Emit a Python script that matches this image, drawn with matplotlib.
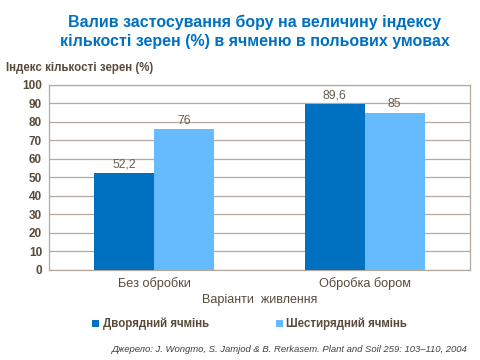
import matplotlib.pyplot as plt
import numpy as np

plt.rcParams['font.family'] = ['Liberation Sans', 'DejaVu Sans']

# categories (treatment variants)
categories = ['Без обробки', 'Обробка бором']
# series names
series = ['Дворядний ячмінь', 'Шестирядний ячмінь']
# kernel number index (%) for each series
two_row = [52.2, 89.6]
six_row = [76, 85]
value_labels = [['52,2', '89,6'], ['76', '85']]

colors = ['#0070C0', '#66BBFF']
text_col = '#5A4A3A'
grid_col = '#B3A99C'

fig = plt.figure(figsize=(4.8, 3.6), dpi=100)
ax = fig.add_axes([0.102, 0.25, 0.877, 0.514])

x = np.arange(len(categories))
w = 0.285
bars1 = ax.bar(x - w / 2, two_row, w, color=colors[0], label=series[0], zorder=3)
bars2 = ax.bar(x + w / 2, six_row, w, color=colors[1], label=series[1], zorder=3)

for bars, labs in zip([bars1, bars2], value_labels):
    for b, lab in zip(bars, labs):
        ax.text(b.get_x() + b.get_width() / 2, b.get_height() + 1.5, lab,
                ha='center', va='bottom', fontsize=8.8, color='#6B5B4B')

ax.set_xlim(-0.5, 1.5)
ax.set_ylim(0, 100)
ax.set_yticks(range(0, 101, 10))
ax.set_xticks(x)
ax.set_xticklabels(categories, fontsize=9.2, color=text_col)
for lbl in ax.get_yticklabels():
    lbl.set_fontsize(8.5)
    lbl.set_fontweight('bold')
    lbl.set_color(text_col)
ax.tick_params(axis='both', length=0, pad=5)
ax.tick_params(axis='x', pad=5)
ax.grid(axis='y', color=grid_col, linewidth=0.9, zorder=0)
for s in ax.spines.values():
    s.set_color(grid_col)
    s.set_linewidth(0.9)

ax.set_xlabel('Варіанти  живлення', fontsize=9, color=text_col, labelpad=3)

fig.text(0.53, 0.96, 'Валив застосування бору на величину індексу\nкількості зерен (%) в ячменю в польових умовах',
         ha='center', va='top', fontsize=11.5, fontweight='bold', color='#0070C0', linespacing=1.35)
fig.text(0.012, 0.81, 'Індекс кількості зерен (%)', ha='left', va='center',
         fontsize=8.3, fontweight='bold', color=text_col)

leg = fig.legend(handles=[bars1, bars2], labels=series, loc='center', bbox_to_anchor=(0.52, 0.10),
                 ncol=2, frameon=False, fontsize=8.3, handlelength=0.6, handleheight=0.6,
                 handletextpad=0.3, columnspacing=5.8)
for t in leg.get_texts():
    t.set_color(text_col)
    t.set_fontweight('bold')

fig.text(0.975, 0.028, 'Джерело: J. Wongmo, S. Jamjod & B. Rerkasem. Plant and Soil 259: 103–110, 2004',
         ha='right', va='center', fontsize=6.8, style='italic', color='#404040')

fig.savefig('out.png', dpi=100)
